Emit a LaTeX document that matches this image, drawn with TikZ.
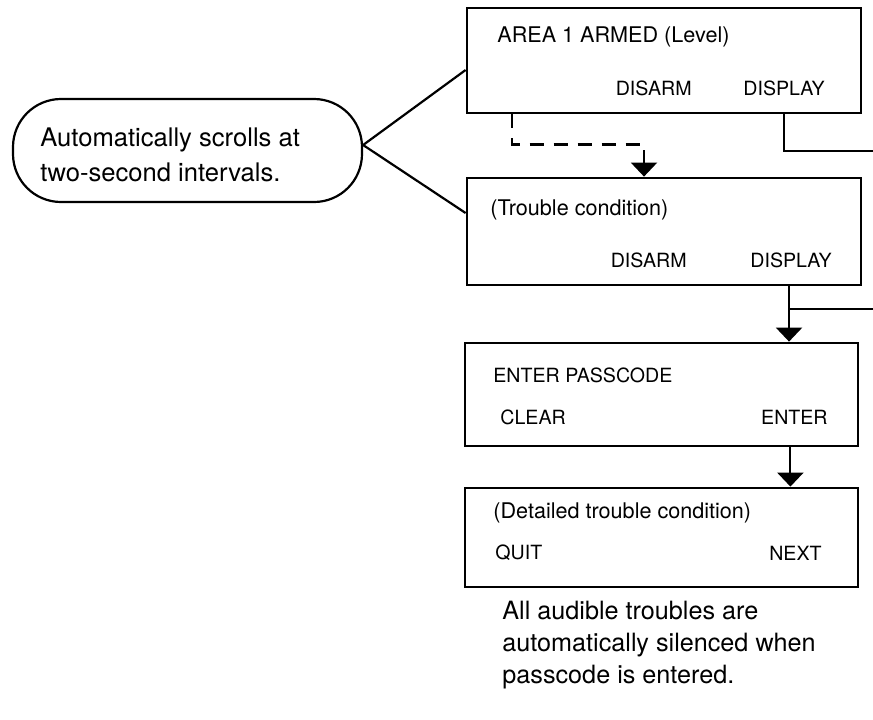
\documentclass[tikz,border=0pt]{standalone}
\usepackage{fontspec}
\setmainfont{TeX Gyre Heros}
\usetikzlibrary{arrows.meta,calc,positioning}
\tikzset{panel/.style={rectangle, draw=black, line width=1.4pt, inner sep=0pt},
keytext/.style={inner sep=0pt, font=\fontsize{10.8}{12}\selectfont},
button/.style={inner sep=0pt, font=\fontsize{9.8}{12}\selectfont},
note/.style={rectangle, rounded corners=24pt, draw=black, line width=1.1pt, minimum width=174.5pt, minimum height=51.5pt},
notetext/.style={inner sep=0pt, align=left},
link/.style={line width=1.1pt},
feed/.style={line width=0.8pt},
flow/.style={line width=1.1pt, -{Triangle[width=13pt,length=7pt]}}}
\begin{document}
\begin{tikzpicture}[x=0.5pt,y=-0.5pt]
		\useasboundingbox (0,0) rectangle (873,719);
		\node[panel, minimum width=197pt, minimum height=52.5pt] (b1) at (664,60.5) {};
		\node[panel, minimum width=197pt, minimum height=53.5pt] (b2) at (664,231.5) {};
		\node[panel, minimum width=196.5pt, minimum height=51.5pt] (b3) at (661.5,394.5) {};
		\node[panel, minimum width=196.5pt, minimum height=49.5pt] (b4) at (661.5,537.5) {};
		\node[keytext, anchor=west] (area) at (497,37) {AREA 1 ARMED (Level)};
		\node[button, anchor=east] (disarm1) at (692,88) {DISARM};
		\node[button, anchor=east] (display1) at (825,88) {DISPLAY};
		\node[keytext, anchor=west] (trouble) at (490,210) {(Trouble condition)};
		\node[button, anchor=east] (disarm2) at (687,260) {DISARM};
		\node[button, anchor=east] (display2) at (832,260) {DISPLAY};
		\node[button, anchor=west] (passcode) at (493,375) {ENTER PASSCODE};
		\node[button, anchor=west] (clear) at (500,417) {CLEAR};
		\node[button, anchor=east] (enter) at (828,417) {ENTER};
		\node[keytext, anchor=west] (detail) at (493,513) {(Detailed trouble condition)};
		\node[button, anchor=west] (quit) at (495,553) {QUIT};
		\node[button, anchor=east] (next) at (822,553) {NEXT};
		\node[note] (oval) at (187.5,150.5) {};
		\node[notetext, anchor=west, font=\fontsize{12.8}{17.5}\selectfont] (scroll) at (40,154.5) {Automatically scrolls at\\two-second intervals.};
		\node[notetext, anchor=west, font=\fontsize{12.6}{16}\selectfont] (silence) at (502,645) {All audible troubles are\\automatically silenced when\\passcode is entered.};
		\coordinate (tip) at ($(oval.east)+(0,-5.5)$);
		\coordinate (out1) at (873,151);
		\coordinate (out2) at (873,309);
		\draw[link] (b1.west |- 0,70) -- (tip) -- (b2.west |- 0,213);
		\draw[flow, dash pattern=on 7pt off 5pt] ($(b1.south west)+(46,0)$) -- ++(0,30) -| ($(b2.north)+(-20,0)$);
		\draw[feed] (display1.center |- b1.south) |- (out1);
		\draw[flow] ($(display2.center |- b2.south)+(-2,0)$) -- ($(display2.center |- b3.north)+(-2,0)$);
		\draw[feed] ($(display2.center |- out2)+(-2,0)$) -- (out2);
		\draw[flow] ($(enter.center |- b3.south)+(-4,0)$) -- ($(enter.center |- b4.north)+(-4,0)$);
		\end{tikzpicture}
\end{document}
